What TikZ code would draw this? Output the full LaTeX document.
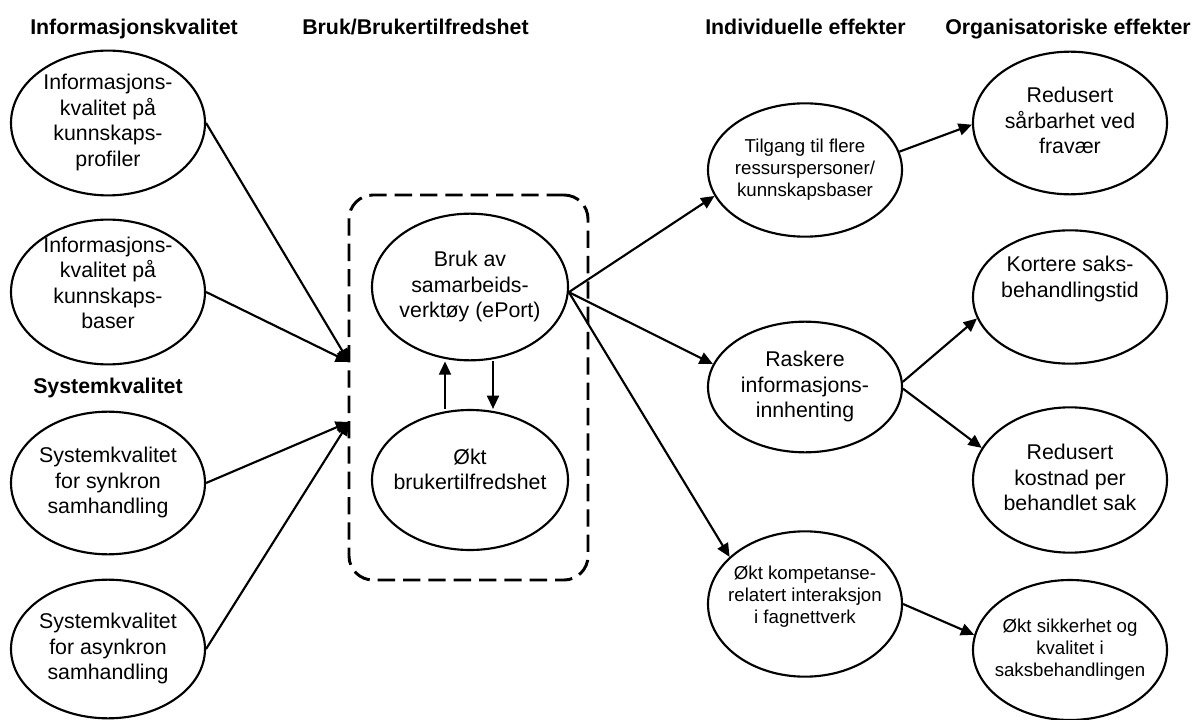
\documentclass[tikz,border=0pt]{standalone}
\usepackage{fontspec}
\setmainfont{Liberation Sans}
\usetikzlibrary{shapes.geometric,arrows.meta}

% centred multi-line text of zero width; optional argument lifts the text
% inside its oval without moving the oval
\newcommand\ovaltext[2][0pt]{\raisebox{#1}[\height][\depth]{\makebox[0pt]{\begin{tabular}{@{}c@{}}#2\end{tabular}}}}

\tikzset{
  oval/.style={draw, ellipse, line width=1.6pt, inner sep=0pt,
    minimum width=145.5pt, minimum height=106pt,
    font=\fontsize{16}{19.2}\selectfont},
  smalloval/.style={oval, font=\fontsize{14}{16.3}\selectfont},
  head/.style={anchor=base west, inner sep=0pt,
    font=\fontsize{16}{19.2}\selectfont\bfseries},
  conn/.style={line width=1.6pt, -{Triangle[length=10pt,width=9pt]}},
  groupbox/.style={draw, line width=2.2pt, dash pattern=on 13pt off 6pt,
    rounded corners=18pt, inner sep=0pt,
    minimum width=179.25pt, minimum height=288.75pt}
}

\begin{document}
\begin{tikzpicture}[x=0.75pt, y=-0.75pt]
\useasboundingbox (0,0) rectangle (1192,720);

% column headings
\node[head] (h1) at (30,35)  {Informasjonskvalitet};
\node[head] (h2) at (302,35) {Bruk/Brukertilfredshet};
\node[head] (h3) at (705,35) {Individuelle effekter};
\node[head] (h4) at (945,35) {Organisatoriske effekter};
\node[head] (h5) at (33,393) {Systemkvalitet};

% quality factors
\node[oval, minimum height=107pt] (e1) at (108,123)
  {\ovaltext{Informasjons-\\kvalitet på\\kunnskaps-\\profiler}};
\node[oval, minimum height=105pt] (e2) at (108,292)
  {\ovaltext[5pt]{Informasjons-\\kvalitet på\\kunnskaps-\\baser}};
\node[oval, minimum height=107pt] (e3) at (108,483)
  {\ovaltext{Systemkvalitet\\for synkron\\samhandling}};
\node[oval, minimum height=104pt] (e4) at (108,649)
  {\ovaltext{Systemkvalitet\\for asynkron\\samhandling}};

% use and user satisfaction
\node[groupbox] (box) at (468.5,387.5) {};
\node[oval, minimum width=147pt, minimum height=110pt] (bruk) at (470,287)
  {\ovaltext{Bruk av\\samarbeids-\\verktøy (ePort)}};
\node[oval, minimum width=147pt, minimum height=105pt] (okt) at (470,480)
  {\ovaltext[6pt]{Økt\\brukertilfredshet}};
\coordinate (inA) at (349,362);
\coordinate (inB) at (349,422);

% individual effects
\node[smalloval, minimum height=100pt] (m1) at (805,170)
  {\ovaltext{Tilgang til flere\\ressurspersoner/\\kunnskapsbaser}};
\node[oval, minimum height=98pt] (m2) at (805,387)
  {\ovaltext{Raskere\\informasjons-\\innhenting}};
\node[smalloval, minimum height=109pt] (m3) at (805,604)
  {\ovaltext[5pt]{Økt kompetanse-\\relatert interaksjon\\i fagnettverk}};

% organisational effects
\node[oval, minimum height=107pt] (r1) at (1070,123)
  {\ovaltext{Redusert\\sårbarhet ved\\fravær}};
\node[oval, minimum height=100pt] (r2) at (1070,297)
  {\ovaltext[13pt]{Kortere saks-\\behandlingstid}};
\node[oval, minimum height=109pt] (r3) at (1070,480)
  {\ovaltext{Redusert\\kostnad per\\behandlet sak}};
\node[smalloval, minimum height=105pt] (r4) at (1070,650)
  {\ovaltext{Økt sikkerhet og\\kvalitet i\\saksbehandlingen}};

% connectors
\draw[conn] (e1.east) -- (inA);
\draw[conn] (e2.east) -- (inA);
\draw[conn] (e3.east) -- (inB);
\draw[conn] (e4.east) -- (inB);

\draw[conn] ([xshift=-18.75pt]okt.north) -- ([xshift=-18.75pt]bruk.south);
\draw[conn] ([xshift=17.25pt]bruk.south) -- ([xshift=17.25pt]okt.north);

\draw[conn] (bruk.-3) -- (m1.196);
\draw[conn] (bruk.-3) -- (m2.166);
\draw[conn] (bruk.-3) -- (m3.148);

\draw[conn] (m1.11) -- (r1.181);
\draw[conn] (m2.3) -- (r2.193);
\draw[conn] (m2.-1) -- (r3.160);
\draw[conn] (m3.east) -- (r4.171);
\end{tikzpicture}
\end{document}
